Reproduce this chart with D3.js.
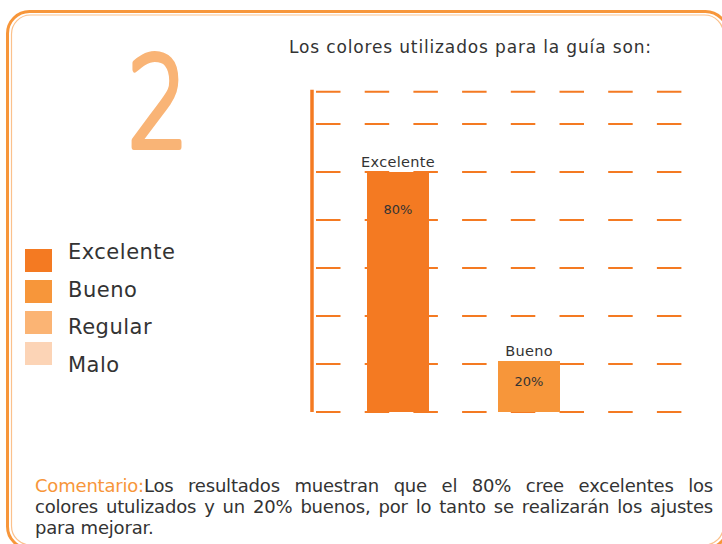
<!DOCTYPE html>
<html>
<head>
<meta charset="utf-8">
<script src="https://cdn.jsdelivr.net/npm/d3@7"></script>
<style>
  body { margin: 0; background: #fff; }
  #board { position: relative; width: 722px; height: 544px; overflow: hidden; }
  #board svg { position: absolute; left: 0; top: 0; }
  .comment {
    position: absolute; left: 35px; top: 475px; width: 678px;
    font-family: "DejaVu Sans", sans-serif; font-size: 18px; line-height: 21px;
    color: #333; letter-spacing: -0.2px;
  }
  .comment div { white-space: nowrap; }
  .comment .full { text-align: justify; text-align-last: justify; }
  .comment .hl { color: #F7963A; }
</style>
</head>
<body>
<div id="board"></div>
<script>
// data
const categories = ['Excelente', 'Bueno'];
const values = [80, 20];
const valueLabels = ['80%', '20%'];
const legendNames = ['Excelente', 'Bueno', 'Regular', 'Malo'];
const legendColors = ['#F47A22', '#F7963A', '#FBB474', '#FCD4B6'];
const gridLevels = [0, 1, 2, 3, 4, 5, 6, 6.67];
const commentLines = [
  'Los resultados muestran que el 80% cree excelentes los',
  'colores utulizados y un 20% buenos, por lo tanto se realizarán los ajustes',
  'para mejorar.'
];

const w = 722, h = 544;
const font = '"DejaVu Sans", sans-serif';

const board = d3.select('#board');
const svg = board.append('svg')
  .attr('width', w)
  .attr('height', h);

// frame
svg.append('rect')
  .attr('x', 7.5).attr('y', 11.5)
  .attr('width', 720).attr('height', 537)
  .attr('rx', 22)
  .attr('fill', 'none')
  .attr('stroke', '#F7963A')
  .attr('stroke-width', 3);
svg.append('rect')
  .attr('x', 11.5).attr('y', 15)
  .attr('width', 712).attr('height', 530)
  .attr('rx', 19)
  .attr('fill', 'none')
  .attr('stroke', '#FBC18C')
  .attr('stroke-width', 1.2);

// big number
svg.append('text')
  .attr('transform', 'translate(158,147) scale(0.78,1)')
  .attr('text-anchor', 'middle')
  .attr('font-family', font)
  .attr('font-weight', 200)
  .attr('font-size', 124)
  .attr('fill', '#F9B476')
  .attr('stroke', '#F9B476')
  .attr('stroke-width', 6)
  .attr('stroke-linejoin', 'round')
  .text('2');

svg.append('text')
  .attr('x', 289).attr('y', 53)
  .attr('font-family', font)
  .attr('font-size', 17)
  .attr('letter-spacing', 0.85)
  .attr('fill', '#333')
  .text('Los colores utilizados para la guía son:');

// scales
const xScale = d3.scalePoint()
  .domain(categories)
  .range([398, 529]);
const barW = 62;

const yScale = d3.scaleLinear()
  .domain([20, 80])
  .range([361, 172]);
const baseY = 412;

const gridY = d3.scaleLinear()
  .domain([0, 6])
  .range([baseY, 124]);

// grid
svg.append('g')
  .selectAll('line')
  .data(gridLevels)
  .join('line')
  .attr('x1', 316).attr('x2', 683)
  .attr('y1', d => gridY(d)).attr('y2', d => gridY(d))
  .attr('stroke', '#F47A22')
  .attr('stroke-width', 2)
  .attr('stroke-dasharray', '24.5 24.2');

// axis line
svg.append('line')
  .attr('x1', 312).attr('x2', 312)
  .attr('y1', gridY(6.67) - 2).attr('y2', baseY)
  .attr('stroke', '#F47A22')
  .attr('stroke-width', 3.5);

// bars
const bars = svg.append('g')
  .selectAll('g')
  .data(categories)
  .join('g');

bars.append('rect')
  .attr('x', d => xScale(d) - barW / 2)
  .attr('y', (d, i) => yScale(values[i]))
  .attr('width', barW)
  .attr('height', (d, i) => baseY - yScale(values[i]))
  .attr('fill', (d, i) => legendColors[i]);

bars.append('text')
  .attr('x', d => xScale(d))
  .attr('y', (d, i) => yScale(values[i]) - 5)
  .attr('text-anchor', 'middle')
  .attr('font-family', font)
  .attr('font-size', 14.5)
  .attr('letter-spacing', 0.3)
  .attr('fill', '#333')
  .text(d => d);

bars.append('text')
  .attr('x', d => xScale(d))
  .attr('y', (d, i) => yScale(values[i]) + (i === 0 ? 42 : 25))
  .attr('text-anchor', 'middle')
  .attr('font-family', font)
  .attr('font-size', 13)
  .attr('fill', '#333')
  .text((d, i) => valueLabels[i]);

// legend
const legend = svg.append('g')
  .selectAll('g')
  .data(legendNames)
  .join('g');

legend.append('rect')
  .attr('x', 25)
  .attr('y', (d, i) => 249 + i * 31)
  .attr('width', 27).attr('height', 23)
  .attr('fill', (d, i) => legendColors[i]);

legend.append('text')
  .attr('x', 68)
  .attr('y', (d, i) => 259 + i * 37.7)
  .attr('font-family', font)
  .attr('font-size', 21)
  .attr('letter-spacing', 0.5)
  .attr('fill', '#333')
  .text(d => d);

// comment, wrapped as in the original
const comment = board.append('div').attr('class', 'comment');
comment.selectAll('div')
  .data(commentLines)
  .join('div')
  .attr('class', (d, i) => i < commentLines.length - 1 ? 'full' : null)
  .each(function (d, i) {
    const line = d3.select(this);
    if (i === 0) line.append('span').attr('class', 'hl').text('Comentario:');
    line.append('span').text(d);
  });
</script>
</body>
</html>
